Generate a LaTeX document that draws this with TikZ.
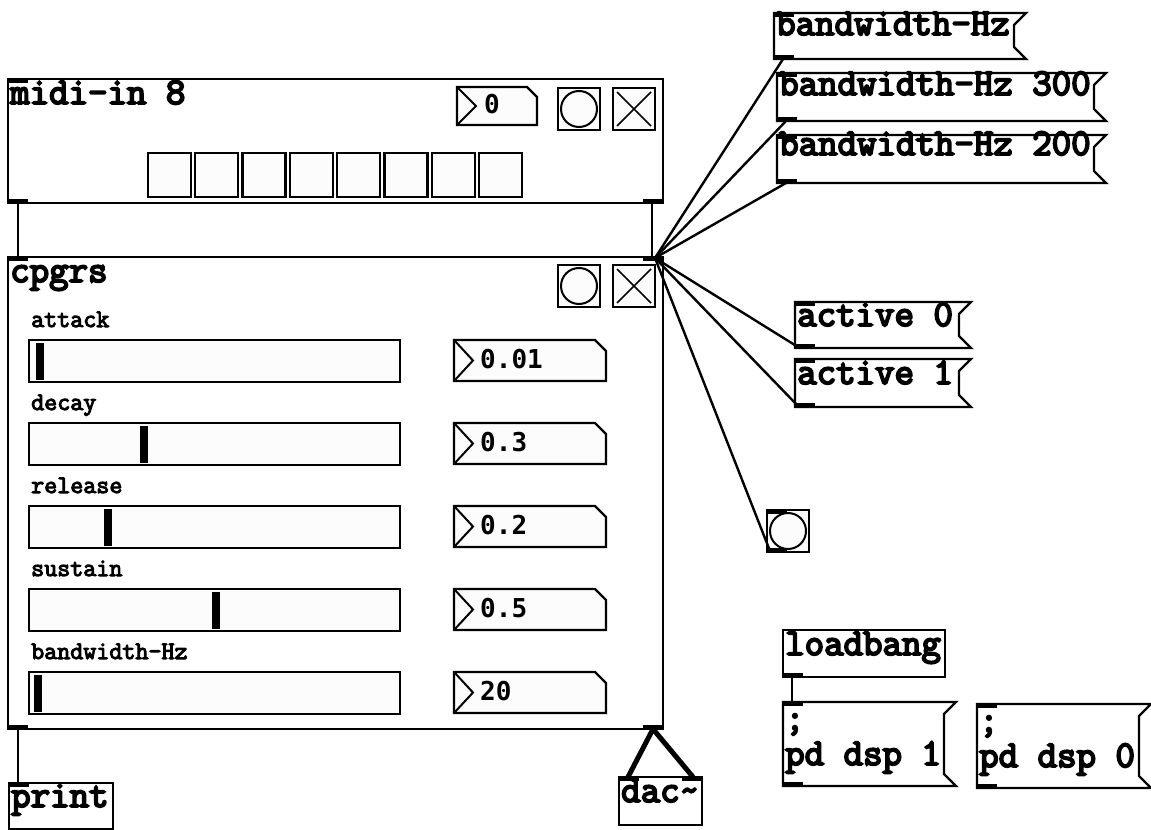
\documentclass[tikz,border=0pt]{standalone}
\usepackage{fontspec}
\newfontfamily\pdmono{Latin Modern Mono}[FakeBold=5]
\newfontfamily\pdmonosmall{Latin Modern Mono}[FakeBold=4]
\newfontfamily\pdnum{DejaVu Sans Mono}
\definecolor{guifill}{HTML}{FCFCFC}
\newcommand\bigf{\pdmono\fontsize{37.8bp}{40bp}\selectfont}
\newcommand\smallf{\pdmonosmall\fontsize{25.3bp}{27bp}\selectfont}
\newcommand\numf{\pdnum\bfseries\fontsize{26bp}{28bp}\selectfont}
\tikzset{
  box/.style={draw=black, line width=2.3bp, fill=white},
  guibox/.style={draw=black, line width=2.3bp, fill=guifill},
  wire/.style={draw=black, line width=2.4bp},
  sigwire/.style={draw=black, line width=5bp},
  bigtxt/.style={anchor=base west, inner sep=0pt, font=\bigf},
  smalltxt/.style={anchor=base west, inner sep=0pt, font=\smallf},
  numtxt/.style={anchor=base west, inner sep=0pt, font=\numf},
}
% ports
\newcommand\inport[2]{\fill[black] (#1,#2) rectangle (#1+20,#2+4);}
\newcommand\outport[2]{\fill[black] (#1,#2) rectangle (#1+20,#2-4);}
% message box: x1,y1,tip,y2
\newcommand\pdmessage[4]{%
  \draw[box] (#1,#2) -- (#3,#2) -- (#3-12,#2+12) -- (#3-12,#4-12) -- (#3,#4) -- (#1,#4) -- cycle;
  \inport{#1}{#2}\outport{#1}{#4}}
% number box: x1,y1,x2,y2,cut
\newcommand\pdnumber[5]{%
  \draw[guibox] (#1,#2) -- (#3-#5,#2) -- (#3,#2+#5) -- (#3,#4) -- (#1,#4) -- cycle;
  \draw[line width=2bp] (#1,#2) -- (#1+19,{(#2+#4)/2}) -- (#1,#4);}
% slider: ytop, handle x
\newcommand\pdslider[2]{%
  \draw[guibox] (29,#1) rectangle (400,#1+42);
  \fill[black] (#2,#1+3) rectangle (#2+8,#1+40);}
% bang: x,y
\newcommand\pdbang[2]{%
  \draw[guibox] (#1,#2) rectangle (#1+42,#2+42);
  \draw[line width=2bp] (#1+21,#2+21) circle[radius=18bp];}
% toggle: x,y
\newcommand\pdtoggle[2]{%
  \draw[guibox] (#1,#2) rectangle (#1+42,#2+42);
  \draw[line width=1.6bp] (#1+4,#2+4) -- (#1+38,#2+38) (#1+38,#2+4) -- (#1+4,#2+38);}
\begin{document}
\begin{tikzpicture}[x=1bp,y=-1bp]
\useasboundingbox (0,0) rectangle (1151,830);

% ---------- midi-in 8 ----------
\draw[box] (8,79) rectangle (663,203);
\inport{8}{79}\outport{8}{203}\outport{643}{203}
\node[bigtxt] (midititle) at (10,104) {midi-in 8};
\pdnumber{457}{87}{537}{125}{10}
\node[numtxt] (midinum) at (484,113) {0};
\pdbang{558}{88}
\pdtoggle{613}{88}
\foreach \i in {0,...,7} {
  \draw[guibox] (148+47.3*\i,153) rectangle (191+47.3*\i,197);
}

% ---------- cpgrs ----------
\draw[box] (8,257) rectangle (663,729);
\inport{8}{257}\inport{643}{257}\outport{8}{729}\outport{643}{729}
\node[bigtxt] (cptitle) at (10,282) {cpgrs};
\pdbang{558}{265}
\pdtoggle{613}{265}
\node[smalltxt] (lbA) at (31,327) {attack};
\node[smalltxt] (lbD) at (31,410) {decay};
\node[smalltxt] (lbR) at (31,493) {release};
\node[smalltxt] (lbS) at (31,576) {sustain};
\node[smalltxt] (lbB) at (31,659) {bandwidth-Hz};
\pdslider{340}{36}
\pdslider{423}{140}
\pdslider{506}{104}
\pdslider{589}{212}
\pdslider{672}{34}
\pdnumber{454}{340}{606}{381}{11}
\pdnumber{454}{423}{606}{464}{11}
\pdnumber{454}{506}{606}{547}{11}
\pdnumber{454}{589}{606}{630}{11}
\pdnumber{454}{672}{606}{713}{11}
\node[numtxt] (nA) at (480,368) {0.01};
\node[numtxt] (nD) at (480,451) {0.3};
\node[numtxt] (nR) at (480,534) {0.2};
\node[numtxt] (nS) at (480,617) {0.5};
\node[numtxt] (nB) at (480,700) {20};

% ---------- messages ----------
\pdmessage{774}{13}{1026}{59}
\node[bigtxt] (bw1) at (776,35) {bandwidth-Hz};
\pdmessage{777}{73}{1106}{121}
\node[bigtxt] (bw2) at (779,95) {bandwidth-Hz 300};
\pdmessage{777}{135}{1106}{183}
\node[bigtxt] (bw3) at (779,155) {bandwidth-Hz 200};
\pdmessage{795}{302}{971}{348}
\node[bigtxt] (act0) at (797,326) {active 0};
\pdmessage{795}{359}{971}{407}
\node[bigtxt] (act1) at (797,384) {active 1};

% bang
\pdbang{767}{510}
\inport{767}{510}\outport{767}{552}

% loadbang and dsp messages
\draw[box] (783,630) rectangle (945,677);
\outport{783}{677}
\node[bigtxt] (lb) at (785,655) {loadbang};
\pdmessage{783}{702}{956}{786}
\node[bigtxt] (d1a) at (785,730) {;};
\node[bigtxt] (d1b) at (785,765) {pd dsp 1};
\pdmessage{977}{704}{1151}{788}
\node[bigtxt] (d0a) at (979,732) {;};
\node[bigtxt] (d0b) at (979,767) {pd dsp 0};

% print and dac~
\draw[box] (9,783) rectangle (113,829);
\inport{9}{783}
\node[bigtxt] (pr) at (11,807) {print};
\draw[box] (619,777) rectangle (702,825);
\inport{619}{777}\inport{682}{777}
\node[bigtxt] (dac) at (621,802) {dac\char`~};

% ---------- connection points ----------
\coordinate (midiOutL) at (18,203);
\coordinate (midiOutR) at (652,203);
\coordinate (cpInL) at (18,257);
\coordinate (cpInR) at (652,257);
\coordinate (hub) at (655,258);
\coordinate (cpOutL) at (18,729);
\coordinate (cpOutR) at (653,729);
\coordinate (printIn) at (18,783);
\coordinate (dacInL) at (628,777);
\coordinate (dacInR) at (693,777);
\coordinate (bw1Out) at (783,59);
\coordinate (bw2Out) at (786,121);
\coordinate (bw3Out) at (786,183);
\coordinate (act0Out) at (798,347);
\coordinate (act1Out) at (798,406);
\coordinate (bangOut) at (770,551);
\coordinate (lbOut) at (792,677);
\coordinate (dsp1In) at (792,702);

% ---------- wires ----------
\draw[wire] (midiOutL) -- (cpInL);
\draw[wire] (midiOutR) -- (cpInR);
\draw[wire] (bw1Out) -- (hub);
\draw[wire] (bw2Out) -- (hub);
\draw[wire] (bw3Out) -- (hub);
\draw[wire] (act0Out) -- (hub);
\draw[wire] (act1Out) -- (hub);
\draw[wire] (bangOut) -- (hub);
\draw[wire] (cpOutL) -- (printIn);
\draw[wire] (lbOut) -- (dsp1In);
\draw[sigwire] (cpOutR) -- (dacInL);
\draw[sigwire] (cpOutR) -- (dacInR);
\end{tikzpicture}
\end{document}
